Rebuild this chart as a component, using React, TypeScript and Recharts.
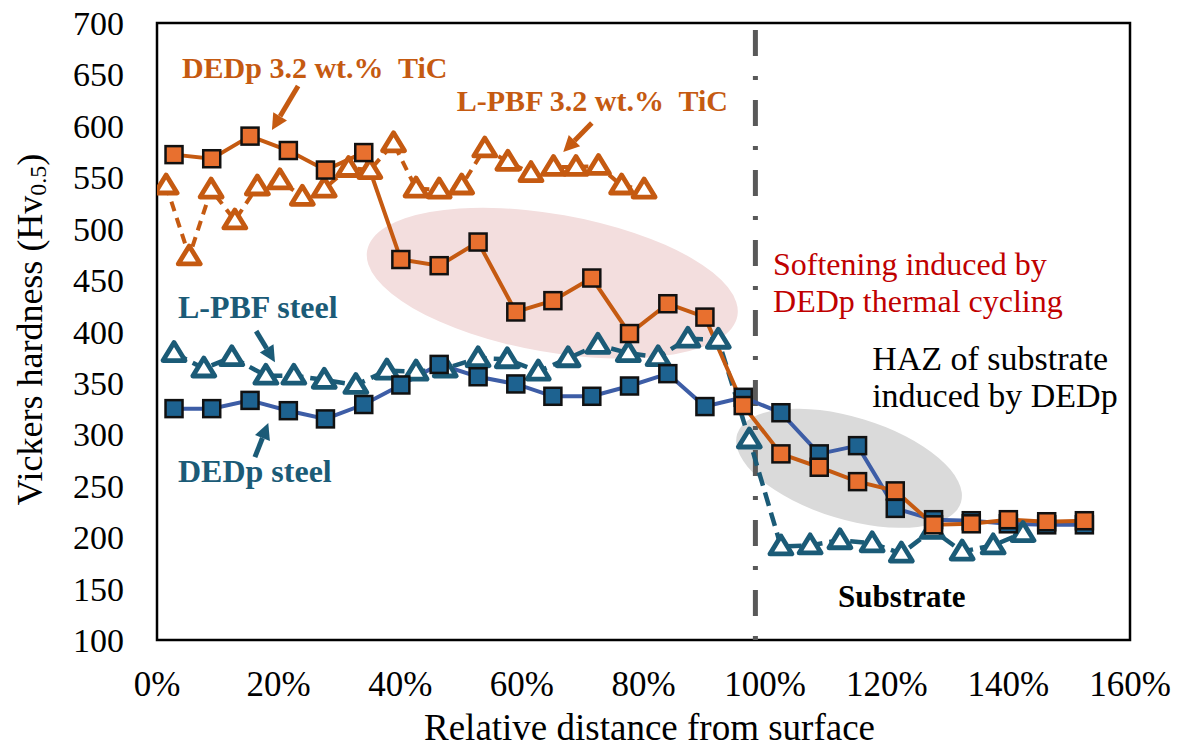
import {
  Line,
  LineChart,
  ReferenceArea,
  ReferenceDot,
  ReferenceLine,
  XAxis,
  YAxis,
} from "recharts";

const SERIF = '"Liberation Serif", "Times New Roman", serif';

const ORANGE_LINE = "#c55a11";
const ORANGE_FILL = "#e8702f";
const BLUE_LINE = "#3d5da6";
const BLUE_FILL = "#1d6290";
const TEAL = "#1b5b77";

// x positions are % of relative distance from surface
const dedpX = [
  2.8, 9.0, 15.3, 21.6, 27.7, 34.0, 40.1, 46.4, 52.8, 59.0, 65.1, 71.5, 77.7,
  84.0, 90.1, 96.4, 102.6, 108.9, 115.2, 121.4, 127.7, 133.9, 140.0, 146.3, 152.5,
];
const dedpTicHv = [
  572, 568, 590, 576, 557, 574, 470, 464, 487, 419, 430, 452, 398, 427, 414,
  328, 281, 268, 254, 245, 212, 213, 217, 215, 216,
];
const dedpSteelHv = [
  325, 325, 333, 323, 315, 329, 348, 368, 356, 349, 337, 337, 347, 359, 327,
  336, 321, 281, 289, 228, 217, 216, 213, 212, 212,
];

const lpbfTicX = [
  1.5, 5.3, 8.9, 12.8, 16.5, 20.2, 23.9, 27.5, 31.5, 35.0, 38.9, 42.6, 46.4,
  50.1, 53.9, 57.7, 61.5, 65.2, 68.9, 72.6, 76.4, 80.1,
];
const lpbfTicHv = [
  542, 473, 538, 508, 541, 547, 531, 539, 559, 557, 583, 539, 538, 542, 578,
  565, 554, 560, 560, 561, 542, 538,
];

const lpbfSteelX = [
  2.8, 7.7, 12.3, 17.9, 22.5, 27.5, 32.7, 37.8, 42.6, 47.4, 52.8, 57.6, 62.7,
  67.6, 72.5, 77.5, 82.4, 87.3, 92.3, 97.4, 102.6, 107.4, 112.3, 117.6, 122.4,
  127.5, 132.4, 137.5, 142.4,
];
const lpbfSteelHv = [
  379, 364, 375, 357, 357, 353, 348, 362, 361, 364, 374, 373, 361, 374, 387,
  379, 375, 393, 392, 295, 191, 192, 197, 194, 184, 207, 186, 192, 204,
];

const xTicks = [0, 20, 40, 60, 80, 100, 120, 140, 160];
const yTicks = [100, 150, 200, 250, 300, 350, 400, 450, 500, 550, 600, 650, 700];

const dedpTic = dedpX.map((x, i) => ({ x, hv: dedpTicHv[i] }));
const dedpSteel = dedpX.map((x, i) => ({ x, hv: dedpSteelHv[i] }));
const lpbfTic = lpbfTicX.map((x, i) => ({ x, hv: lpbfTicHv[i] }));
const lpbfSteel = lpbfSteelX.map((x, i) => ({ x, hv: lpbfSteelHv[i] }));

const squareDot = (fill: string) => (props: any) => {
  const { cx, cy, index } = props;
  if (cx == null || cy == null) return <g key={`s-${index}`} />;
  return (
    <rect
      key={`s-${index}`}
      x={cx - 8.5}
      y={cy - 8.5}
      width={17}
      height={17}
      fill={fill}
      stroke="#111"
      strokeWidth={2.5}
    />
  );
};

const triangleDot = (stroke: string) => (props: any) => {
  const { cx, cy, index } = props;
  if (cx == null || cy == null) return <g key={`t-${index}`} />;
  return (
    <polygon
      key={`t-${index}`}
      points={`${cx},${cy - 10.5} ${cx + 11},${cy + 7.5} ${cx - 11},${cy + 7.5}`}
      fill="#fff"
      stroke={stroke}
      strokeWidth={4.8}
      strokeLinejoin="round"
    />
  );
};

const note =
  (text: string, color: string, size: number, weight: string | number = "normal") =>
  (p: any) => (
    <text
      x={p.cx}
      y={p.cy}
      fill={color}
      fontSize={size}
      fontWeight={weight}
      fontFamily={SERIF}
      xmlSpace="preserve"
    >
      {text}
    </text>
  );

const ellipse = (rx: number, ry: number, angle: number, fill: string) => (p: any) => (
  <ellipse
    cx={p.cx}
    cy={p.cy}
    rx={rx}
    ry={ry}
    fill={fill}
    transform={`rotate(${angle} ${p.cx} ${p.cy})`}
  />
);

const arrow = (color: string) => (p: any) => {
  const { x1, y1, x2, y2 } = p;
  const a = Math.atan2(y2 - y1, x2 - x1);
  const head = 16;
  const half = 8;
  const bx = x2 - head * Math.cos(a);
  const by = y2 - head * Math.sin(a);
  const px = -Math.sin(a) * half;
  const py = Math.cos(a) * half;
  return (
    <g>
      <line x1={x1} y1={y1} x2={bx} y2={by} stroke={color} strokeWidth={5} />
      <polygon
        points={`${x2},${y2} ${bx + px},${by + py} ${bx - px},${by - py}`}
        fill={color}
      />
    </g>
  );
};

const YTitle = (props: any) => {
  const vb = props.viewBox || { x: 0, y: 23, width: 157, height: 617 };
  const cx = vb.x + 30;
  const cy = vb.y + vb.height / 2 - 2;
  return (
    <text
      x={cx}
      y={cy}
      transform={`rotate(-90 ${cx} ${cy})`}
      textAnchor="middle"
      dominantBaseline="central"
      fontSize={36}
      fontFamily={SERIF}
      fill="#000"
    >
      Vickers hardness (Hv
      <tspan fontSize={24} dy={8}>
        0.5
      </tspan>
      <tspan dy={-8}>)</tspan>
    </text>
  );
};

const XTitle = (props: any) => {
  const vb = props.viewBox || { x: 157, y: 640, width: 973, height: 111 };
  return (
    <text
      x={vb.x + vb.width / 2 + 6}
      y={740}
      textAnchor="middle"
      fontSize={37}
      fontFamily={SERIF}
      fill="#000"
      xmlSpace="preserve"
    >
      Relative distance from surface
    </text>
  );
};

export default function App() {
  return (
    <div style={{ position: "absolute", left: 0, top: 0, background: "#fff" }}>
      <LineChart
        width={1183}
        height={751}
        margin={{ top: 23, right: 53, bottom: 0, left: 0 }}
      >
        <XAxis
          dataKey="x"
          type="number"
          domain={[0, 160]}
          ticks={xTicks}
          tickFormatter={(v) => `${v}%`}
          allowDataOverflow
          height={111}
          axisLine={false}
          tickLine={false}
          tickSize={0}
          tickMargin={31}
          interval={0}
          tick={{ fontSize: 35, fill: "#000", fontFamily: SERIF }}
          label={{ content: XTitle }}
        />
        <YAxis
          type="number"
          domain={[100, 700]}
          ticks={yTicks}
          width={157}
          axisLine={false}
          tickLine={false}
          tickSize={0}
          tickMargin={33}
          interval={0}
          tick={{ fontSize: 34, fill: "#000", fontFamily: SERIF }}
          label={{ content: YTitle }}
        />

        <ReferenceDot x={65.0} y={447} r={1} zIndex={-10} shape={ellipse(188, 69, 10, "#f3dede")} />
        <ReferenceDot x={113.8} y={267} r={1} zIndex={-10} shape={ellipse(117, 51, 17, "#dadada")} />

        <ReferenceLine
          x={98.4}
          stroke="#595959"
          strokeWidth={5}
          strokeDasharray="26 20 4 20"
          strokeDashoffset={46}
        />

        <Line
          data={lpbfSteel}
          dataKey="hv"
          type="linear"
          stroke={TEAL}
          strokeWidth={4.5}
          strokeDasharray="14 7"
          dot={triangleDot(TEAL)}
          activeDot={false}
          isAnimationActive={false}
        />
        <Line
          data={lpbfTic}
          dataKey="hv"
          type="linear"
          stroke={ORANGE_LINE}
          strokeWidth={4}
          strokeDasharray="10 7"
          dot={triangleDot(ORANGE_LINE)}
          activeDot={false}
          isAnimationActive={false}
        />
        <Line
          data={dedpSteel}
          dataKey="hv"
          type="linear"
          stroke={BLUE_LINE}
          strokeWidth={4}
          dot={squareDot(BLUE_FILL)}
          activeDot={false}
          isAnimationActive={false}
        />
        <Line
          data={dedpTic}
          dataKey="hv"
          type="linear"
          stroke={ORANGE_LINE}
          strokeWidth={4}
          dot={squareDot(ORANGE_FILL)}
          activeDot={false}
          isAnimationActive={false}
        />

        <ReferenceDot x={4.1} y={646.5} r={1} shape={note("DEDp 3.2 wt.%  TiC", ORANGE_LINE, 30, "bold")} />
        <ReferenceDot x={49.3} y={614.4} r={1} shape={note("L-PBF 3.2 wt.%  TiC", ORANGE_LINE, 30, "bold")} />
        <ReferenceDot x={3.45} y={413} r={1} shape={note("L-PBF steel", TEAL, 32, "bold")} />
        <ReferenceDot x={3.45} y={253.5} r={1} shape={note("DEDp steel", TEAL, 32, "bold")} />
        <ReferenceDot x={101.3} y={454.9} r={1} shape={note("Softening induced by", "#c00000", 32)} />
        <ReferenceDot x={101.3} y={418.9} r={1} shape={note("DEDp thermal cycling", "#c00000", 32)} />
        <ReferenceDot x={117.6} y={362.5} r={1} shape={note("HAZ of substrate", "#000", 34)} />
        <ReferenceDot x={117.6} y={326.5} r={1} shape={note("induced by DEDp", "#000", 34)} />
        <ReferenceDot x={112.0} y={132} r={1} shape={note("Substrate", "#000", 31, "bold")} />

        <ReferenceLine segment={[{ x: 23.2, y: 638.7 }, { x: 18.9, y: 595.9 }]} shape={arrow(ORANGE_LINE)} />
        <ReferenceLine segment={[{ x: 71.5, y: 602.7 }, { x: 66.8, y: 574.5 }]} shape={arrow(ORANGE_LINE)} />
        <ReferenceLine segment={[{ x: 16.3, y: 400.4 }, { x: 19.4, y: 370.2 }]} shape={arrow(TEAL)} />
        <ReferenceLine segment={[{ x: 16.1, y: 277.8 }, { x: 18.3, y: 310.9 }]} shape={arrow(TEAL)} />

        <ReferenceArea
          x1={0}
          x2={160}
          y1={100}
          y2={700}
          fill="none"
          fillOpacity={0}
          stroke="#000"
          strokeWidth={2.5}
        />
      </LineChart>
    </div>
  );
}
